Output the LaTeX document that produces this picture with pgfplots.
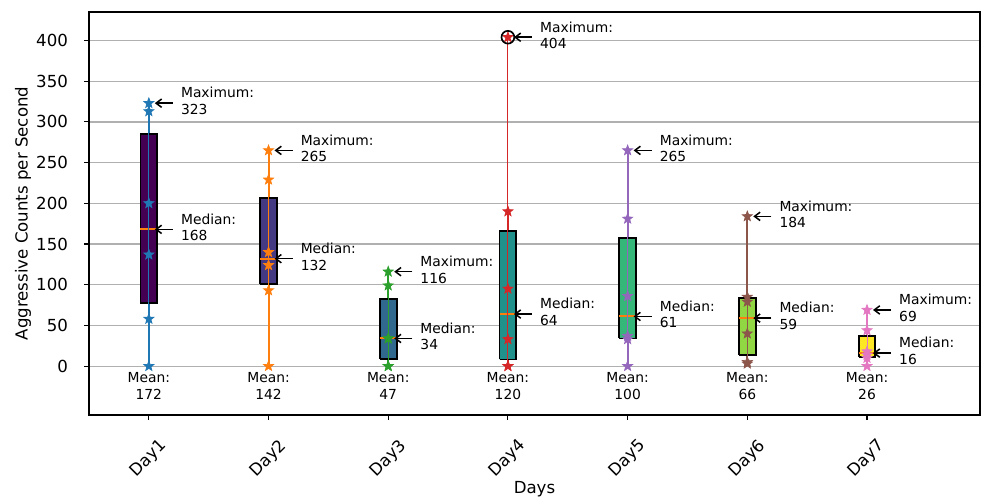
\documentclass[border=0pt]{standalone}
\usepackage{fontspec}
\setmainfont{DejaVu Sans}
\usepackage{graphicx}
\usepackage{pgfplots}
\pgfplotsset{compat=1.18}
\usetikzlibrary{arrows.meta}

\definecolor{v1}{HTML}{440154}
\definecolor{v2}{HTML}{443983}
\definecolor{v3}{HTML}{31688E}
\definecolor{v4}{HTML}{21918C}
\definecolor{v5}{HTML}{35B779}
\definecolor{v6}{HTML}{90D743}
\definecolor{v7}{HTML}{FDE725}
\definecolor{c1}{HTML}{1F77B4}
\definecolor{c2}{HTML}{FF7F0E}
\definecolor{c3}{HTML}{2CA02C}
\definecolor{c4}{HTML}{D62728}
\definecolor{c5}{HTML}{9467BD}
\definecolor{c6}{HTML}{8C564B}
\definecolor{c7}{HTML}{E377C2}
\definecolor{gridc}{HTML}{B0B0B0}

\pgfdeclareplotmark{fstar}{%
  \pgfpathmoveto{\pgfpointpolar{90}{\pgfplotmarksize}}%
  \pgfpathlineto{\pgfpointpolar{126}{0.42\pgfplotmarksize}}%
  \pgfpathlineto{\pgfpointpolar{162}{\pgfplotmarksize}}%
  \pgfpathlineto{\pgfpointpolar{198}{0.42\pgfplotmarksize}}%
  \pgfpathlineto{\pgfpointpolar{234}{\pgfplotmarksize}}%
  \pgfpathlineto{\pgfpointpolar{270}{0.42\pgfplotmarksize}}%
  \pgfpathlineto{\pgfpointpolar{306}{\pgfplotmarksize}}%
  \pgfpathlineto{\pgfpointpolar{342}{0.42\pgfplotmarksize}}%
  \pgfpathlineto{\pgfpointpolar{18}{\pgfplotmarksize}}%
  \pgfpathlineto{\pgfpointpolar{54}{0.42\pgfplotmarksize}}%
  \pgfpathclose
  \pgfusepathqfillstroke}

\newcommand{\annfont}{\fontsize{10}{12}\selectfont}
\newcommand{\ann}[4]{%
  \node[anchor=west, align=left, font=\annfont, inner sep=0pt, xshift=23bp, yshift=1.5bp] at (axis cs:#1,#2) {#3:\\#4};
  \draw[-{Straight Barb[length=4bp,width=6bp]}, line width=1.1bp] ([xshift=17.3bp]axis cs:#1,#2) -- ([xshift=4.3bp]axis cs:#1,#2);}
\newcommand{\meanlab}[2]{%
  \node[align=center, font=\annfont, inner sep=0pt] at (axis cs:#1,-24.6) {Mean:\\#2};}

\pgfplotsset{
  dayline/.style={#1, line width=0.7bp, mark=fstar, mark size=3.8bp, mark options={fill=#1, line width=0.5bp}},
  boxst/.style={draw=black, fill=#1, line width=1.3bp},
  whisk/.style={#1, line width=1.4bp},
  med/.style={c2, line width=1.4bp},
}

\begin{document}
\begin{tikzpicture}
\begin{axis}[
  scale only axis,
  width=641.52bp, height=290.16bp,
  xmin=0.5, xmax=7.944, ymin=-60, ymax=435,
  xtick={1,2,3,4,5,6,7},
  xticklabels={\rotatebox{45}{Day1},\rotatebox{45}{Day2},\rotatebox{45}{Day3},\rotatebox{45}{Day4},\rotatebox{45}{Day5},\rotatebox{45}{Day6},\rotatebox{45}{Day7}},
  ytick={0,50,100,150,200,250,300,350,400},
  tick pos=left, tick align=outside,
  major tick length=3.5bp,
  every tick/.style={black, line width=0.8bp},
  ymajorgrids, major grid style={gridc, line width=0.9bp},
  axis line style={line width=0.8bp},
  /pgf/number format/assume math mode=true,
  ticklabel style={font=\fontsize{12}{14}\selectfont},
  xticklabel style={anchor=center, yshift=-28bp},
  yticklabel style={anchor=east, inner sep=0pt, xshift=-11.5bp},
  xlabel={Days}, ylabel={Aggressive Counts per Second},
  label style={font=\fontsize{12}{14}\selectfont},
  xlabel style={at={(axis description cs:0.5,-0.1837)}, anchor=center},
  ylabel style={at={(axis description cs:-0.074,0.5)}, anchor=center},
  clip=false,
]
% Day1: whiskers, box, median
\addplot[whisk=c1] coordinates {(1,0) (1,77.75)};
\addplot[whisk=c1] coordinates {(1,284.75) (1,323)};
\addplot[boxst=v1] coordinates {(0.93,77.75) (1.07,77.75) (1.07,284.75) (0.93,284.75) (0.93,77.75)};
\addplot[med] coordinates {(0.93,168.5) (1.07,168.5)};
% Day2
\addplot[whisk=c2] coordinates {(2,0) (2,100.75)};
\addplot[whisk=c2] coordinates {(2,206.75) (2,265)};
\addplot[boxst=v2] coordinates {(1.93,100.75) (2.07,100.75) (2.07,206.75) (1.93,206.75) (1.93,100.75)};
\addplot[med] coordinates {(1.93,132) (2.07,132)};
% Day3
\addplot[whisk=c3] coordinates {(3,0) (3,8.5)};
\addplot[whisk=c3] coordinates {(3,82.75) (3,116)};
\addplot[boxst=v3] coordinates {(2.93,8.5) (3.07,8.5) (3.07,82.75) (2.93,82.75) (2.93,8.5)};
\addplot[med] coordinates {(2.93,34) (3.07,34)};
% Day4
\addplot[whisk=c4] coordinates {(4,0) (4,8.25)};
\addplot[whisk=c4] coordinates {(4,166.25) (4,190)};
\addplot[boxst=v4] coordinates {(3.93,8.25) (4.07,8.25) (4.07,166.25) (3.93,166.25) (3.93,8.25)};
\addplot[med] coordinates {(3.93,64) (4.07,64)};
% Day5
\addplot[whisk=c5] coordinates {(5,0) (5,34)};
\addplot[whisk=c5] coordinates {(5,157.25) (5,265)};
\addplot[boxst=v5] coordinates {(4.93,34) (5.07,34) (5.07,157.25) (4.93,157.25) (4.93,34)};
\addplot[med] coordinates {(4.93,61.5) (5.07,61.5)};
% Day6
\addplot[whisk=c6] coordinates {(6,3) (6,13.75)};
\addplot[whisk=c6] coordinates {(6,83.5) (6,184)};
\addplot[boxst=v6] coordinates {(5.93,13.75) (6.07,13.75) (6.07,83.5) (5.93,83.5) (5.93,13.75)};
\addplot[med] coordinates {(5.93,59.5) (6.07,59.5)};
% Day7
\addplot[whisk=c7] coordinates {(7,0) (7,11)};
\addplot[whisk=c7] coordinates {(7,37.5) (7,69)};
\addplot[boxst=v7] coordinates {(6.93,11) (7.07,11) (7.07,37.5) (6.93,37.5) (6.93,11)};
\addplot[med] coordinates {(6.93,16) (7.07,16)};

% daily values
\addplot[dayline=c1] coordinates {(1,0) (1,58) (1,137) (1,200) (1,313) (1,323)};
\addplot[dayline=c2] coordinates {(2,0) (2,93) (2,124) (2,140) (2,229) (2,265)};
\addplot[dayline=c3] coordinates {(3,0) (3,0) (3,34) (3,34) (3,99) (3,116)};
\addplot[dayline=c4] coordinates {(4,0) (4,0) (4,33) (4,95) (4,190) (4,404)};
\addplot[dayline=c5] coordinates {(5,0) (5,33) (5,37) (5,86) (5,181) (5,265)};
\addplot[dayline=c6] coordinates {(6,3) (6,5) (6,40) (6,79) (6,85) (6,184)};
\addplot[dayline=c7] coordinates {(7,0) (7,10) (7,14) (7,18) (7,44) (7,69)};

% outlier
\addplot[only marks, mark=o, mark size=4.6bp, mark options={draw=black, line width=1.2bp}] coordinates {(4,404)};

\ann{1}{323}{Maximum}{323}
\ann{2}{265}{Maximum}{265}
\ann{3}{116}{Maximum}{116}
\ann{4}{404}{Maximum}{404}
\ann{5}{265}{Maximum}{265}
\ann{6}{184}{Maximum}{184}
\ann{7}{69}{Maximum}{69}

\ann{1}{168}{Median}{168}
\ann{2}{132}{Median}{132}
\ann{3}{34}{Median}{34}
\ann{4}{64}{Median}{64}
\ann{5}{61}{Median}{61}
\ann{6}{59}{Median}{59}
\ann{7}{16}{Median}{16}

\meanlab{1}{172}
\meanlab{2}{142}
\meanlab{3}{47}
\meanlab{4}{120}
\meanlab{5}{100}
\meanlab{6}{66}
\meanlab{7}{26}
\end{axis}
\pgfresetboundingbox
\path[use as bounding box] ([shift={(-64.08bp,-59.76bp)}]current axis.south west) rectangle ([shift={(3.6bp,8.64bp)}]current axis.north east);
\end{tikzpicture}
\end{document}
